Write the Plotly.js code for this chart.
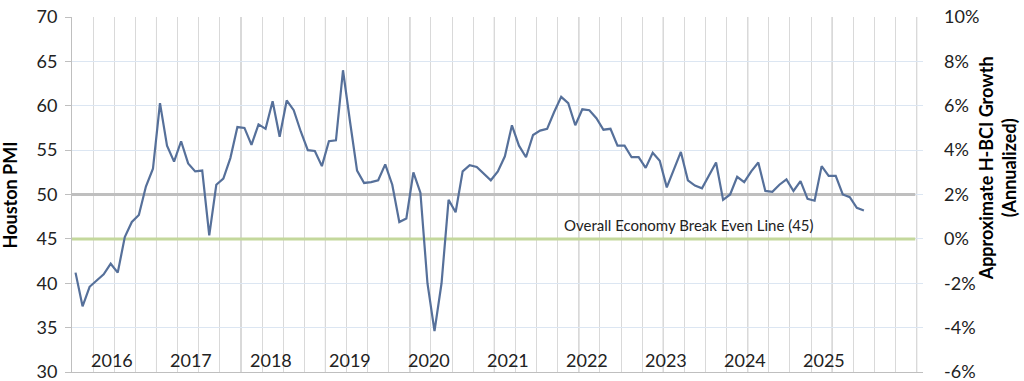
<!DOCTYPE html>
<html>
<head>
<meta charset="utf-8">
<script src="https://cdn.plot.ly/plotly-3.0.1.min.js"></script>
<style>html,body{margin:0;padding:0;background:#fff;}#chart{width:1024px;height:381px;}</style>
</head>
<body>
<div id="chart"></div>
<script>
// Monthly Houston PMI, Jan 2016 onward (index = month number)
const pmi = [
  41.2, 37.4, 39.6, 40.3, 41.0, 42.2, 41.2, 45.2, 46.9, 47.7, 50.9, 52.9,
  60.3, 55.5, 53.7, 56.0, 53.5, 52.6, 52.7, 45.4, 51.1, 51.8, 54.1, 57.6,
  57.5, 55.6, 57.9, 57.4, 60.5, 56.5, 60.6, 59.5, 57.1, 55.0, 54.9, 53.2,
  56.0, 56.1, 64.0, 58.2, 52.7, 51.3, 51.4, 51.6, 53.4, 51.1, 46.9, 47.3,
  52.5, 50.2, 40.0, 34.6, 40.0, 49.4, 48.0, 52.6, 53.3, 53.1, 52.3, 51.6,
  52.6, 54.3, 57.8, 55.5, 54.2, 56.7, 57.2, 57.4, 59.3, 61.0, 60.3, 57.8,
  59.6, 59.5, 58.6, 57.3, 57.4, 55.5, 55.5, 54.2, 54.2, 53.0, 54.7, 53.8,
  50.8, 52.8, 54.8, 51.6, 51.0, 50.7, 52.1, 53.6, 49.4, 50.0, 52.0, 51.4,
  52.6, 53.6, 50.4, 50.3, 51.1, 51.7, 50.4, 51.5, 49.5, 49.3, 53.2, 52.1,
  52.1, 50.0, 49.7, 48.5, 48.2
];
const monthIndex = pmi.map((_, i) => i);
const years = ['2016','2017','2018','2019','2020','2021','2022','2023','2024','2025'];
const leftTicks = [30, 35, 40, 45, 50, 55, 60, 65, 70];
const rightTicks = [-6, -4, -2, 0, 2, 4, 6, 8, 10];
const rightTickText = ['-6%', '-4%', '-2%', '0%', '2%', '4%', '6%', '8%', '10%'];
const expansionLevel = 50;   // gray reference line
const breakEvenLevel = 45;   // green reference line
const breakEvenLabel = 'Overall Economy Break Even Line (45)';
const leftTitle = 'Houston PMI';
const rightTitle = 'Approximate H-BCI Growth<br>(Annualized)';

const FONT = 'Lato, "Open Sans", sans-serif';
const nMonths = 120;

const shapes = [];
// yearly darker gridlines
for (let m = 11.5; m < nMonths; m += 12) {
  shapes.push({type:'line', xref:'x', yref:'paper', x0:m, x1:m, y0:0, y1:1,
    line:{color:'#a6a6a6', width:1}, layer:'between'});
}
shapes.push({type:'line', xref:'x', yref:'y', x0:-0.5, x1:119.3, y0:expansionLevel, y1:expansionLevel,
  line:{color:'#bfbfbf', width:3}, layer:'between'});
shapes.push({type:'line', xref:'x', yref:'y', x0:-0.5, x1:119.3, y0:breakEvenLevel, y1:breakEvenLevel,
  line:{color:'#c4d89c', width:3}, layer:'between'});

const annotations = years.map((y, k) => ({
  text: y, xref:'x', yref:'y', x: 5.23 + k * 11.24, y: 31.4,
  showarrow:false, xanchor:'center', yanchor:'middle',
  font:{family:FONT, size:18, color:'#222'}
}));
annotations.push({text: breakEvenLabel, xref:'x', yref:'y', x: 87.2, y: 46.6,
  showarrow:false, xanchor:'center', yanchor:'middle',
  font:{family:FONT, size:15, color:'#222'}});
annotations.push({text: leftTitle, xref:'paper', yref:'paper', x: -0.073, y: 0.5,
  textangle:-90, showarrow:false, xanchor:'center', yanchor:'middle',
  font:{family:FONT, size:18, color:'#000', weight:'bold'}});
annotations.push({text: rightTitle, xref:'paper', yref:'paper', x: 1.0875, y: 0.575,
  textangle:-90, showarrow:false, xanchor:'center', yanchor:'middle',
  font:{family:FONT, size:18, color:'#000', weight:'bold'}});

const traces = [
  {x: monthIndex, y: pmi, type:'scatter', mode:'lines', line:{color:'#56709a', width:2.2},
   hoverinfo:'y', showlegend:false},
  {x: [0], y: [0], yaxis:'y2', type:'scatter', mode:'markers', marker:{opacity:0},
   hoverinfo:'skip', showlegend:false}
];

const layout = {
  width:1024, height:381,
  margin:{l:72, r:101, t:17, b:9},
  paper_bgcolor:'#fff', plot_bgcolor:'#fff',
  font:{family:FONT, color:'#222'},
  xaxis:{range:[-0.5, 120.4], showgrid:true, gridcolor:'#d9d9d9', gridwidth:1,
    tick0:-0.5, dtick:3, showticklabels:false, ticks:'', zeroline:false,
    showline:true, linecolor:'#bfbfbf', linewidth:1, mirror:false, fixedrange:true},
  yaxis:{range:[30,70], tickvals:leftTicks, showgrid:true, gridcolor:'#dce6f2', gridwidth:1,
    zeroline:false, showline:true, linecolor:'#bfbfbf', linewidth:1,
    ticks:'outside', ticklen:6, tickcolor:'#bfbfbf', ticklabelstandoff:4,
    ticklabeloverflow:'allow',
    tickfont:{family:FONT, size:18, color:'#222'}},
  yaxis2:{range:[-6,10], overlaying:'y', side:'right', tickvals:rightTicks, ticktext:rightTickText,
    showgrid:false, zeroline:false, showline:false, ticks:'', ticklabelstandoff:20,
    ticklabeloverflow:'allow',
    tickfont:{family:FONT, size:18, color:'#222'}},
  shapes: shapes,
  annotations: annotations
};

Plotly.newPlot('chart', traces, layout, {staticPlot:true, displayModeBar:false});
</script>
</body>
</html>
